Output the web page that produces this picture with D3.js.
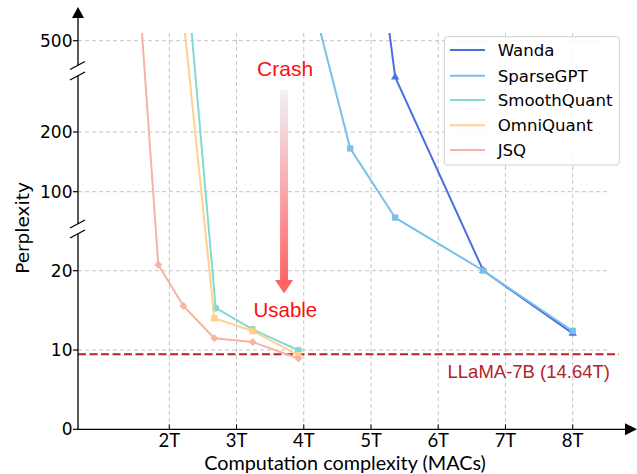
<!DOCTYPE html>
<html><head><meta charset="utf-8">
<script src="https://cdn.jsdelivr.net/npm/d3@7"></script>
<style>html,body{margin:0;padding:0;background:#fff;}svg{display:block;}</style>
</head><body>
<svg id="chart" width="637" height="474"></svg>
<script>
// ---- data ----
const xTickValues = [2, 3, 4, 5, 6, 7, 8];
const xTickLabels = ["2T", "3T", "4T", "5T", "6T", "7T", "8T"];
const yTickValues = [0, 10, 20, 100, 200, 500];
const yTickLabels = ["0", "10", "20", "100", "200", "500"];
const yBreakStops = [0, 20, 100, 200, 500];   // broken-axis segments
const seriesNames = ["Wanda", "SparseGPT", "SmoothQuant", "OmniQuant", "JSQ"];
const wandaX = [4.995, 5.36, 6.67, 8.0];
const wandaY = [1000, 380, 20, 12.1];
const sparseX = [3.704, 4.69, 5.36, 6.67, 8.0];
const sparseY = [1000, 172.7, 73.7, 20, 12.4];
const smoothX = [2.146, 2.69, 3.24, 3.92];
const smoothY = [1000, 15.3, 12.6, 9.97];
const omniX = [2.012, 2.67, 3.24, 3.92];
const omniY = [1000, 14.0, 12.4, 9.35];
const jsqX = [1.442, 1.836, 2.21, 2.67, 3.24, 3.92];
const jsqY = [1000, 26.1, 15.55, 11.48, 11.0, 8.93];
const baselineValue = 9.47;
const baselineLabel = "LLaMA-7B (14.64T)";

(function () {
// ---- styling ----
const colors = ["#4a6fe0", "#79c1ea", "#82dad2", "#ffd08e", "#f5b4a4"];
const symbols = [d3.symbolTriangle, d3.symbolSquare, d3.symbolCircle, d3.symbolSquare, d3.symbolDiamond2];

const svg = d3.select("#chart");
const pLeft = 78, pRight = 610, pTop = 33, pBottom = 429.3;

const x = d3.scaleLinear().domain([2, 8]).range([169.3, 572.7]);
const y = d3.scaleLinear().domain(yBreakStops).range([429.3, 270.7, 191.7, 132, 40.7]);

const series = [
  {name: seriesNames[0], xs: wandaX, ys: wandaY},
  {name: seriesNames[1], xs: sparseX, ys: sparseY},
  {name: seriesNames[2], xs: smoothX, ys: smoothY},
  {name: seriesNames[3], xs: omniX, ys: omniY},
  {name: seriesNames[4], xs: jsqX, ys: jsqY}
].map((s, i) => ({...s, color: colors[i], symbol: symbols[i], pts: s.xs.map((v, j) => [v, s.ys[j]])}));

const defs = svg.append("defs");
defs.append("clipPath").attr("id", "clip")
  .append("rect").attr("x", pLeft).attr("y", pTop).attr("width", pRight - pLeft).attr("height", pBottom - pTop);

const grad = defs.append("linearGradient").attr("id", "arrowGrad")
  .attr("x1", 0).attr("y1", 0).attr("x2", 0).attr("y2", 1);
grad.append("stop").attr("offset", "0%").attr("stop-color", "#f1f1f9");
grad.append("stop").attr("offset", "100%").attr("stop-color", "#ff6464");

// grid
const grid = svg.append("g").attr("stroke", "#c4c4c4").attr("stroke-width", 1).attr("stroke-dasharray", "4,3");
grid.selectAll(".vg").data(xTickValues).join("line").attr("class", "vg")
  .attr("x1", d => x(d)).attr("x2", d => x(d)).attr("y1", pTop).attr("y2", pBottom);
grid.selectAll(".hg").data(yTickValues.filter(d => d > 0)).join("line").attr("class", "hg")
  .attr("x1", pLeft).attr("x2", pRight).attr("y1", d => y(d)).attr("y2", d => y(d));

// baseline
svg.append("line").attr("x1", pLeft).attr("x2", 619).attr("y1", y(baselineValue)).attr("y2", y(baselineValue))
  .attr("stroke", "#b5222a").attr("stroke-width", 2).attr("stroke-dasharray", "8,3.5");
svg.append("text").attr("x", 610).attr("y", y(baselineValue) + 24).attr("text-anchor", "end")
  .attr("font-family", "Liberation Sans, Arial, sans-serif").attr("font-size", 18.5).attr("fill", "#b5222a")
  .text(baselineLabel);

// series
const plot = svg.append("g").attr("clip-path", "url(#clip)");
const line = d3.line().x(d => x(d[0])).y(d => y(d[1]));
series.forEach(s => {
  const g = plot.append("g");
  g.append("path").attr("d", line(s.pts)).attr("fill", "none").attr("stroke", s.color).attr("stroke-width", 2);
  g.selectAll("path.m").data(s.pts).join("path").attr("class", "m")
    .attr("transform", d => `translate(${x(d[0])},${y(d[1])})`)
    .attr("d", d3.symbol().type(s.symbol).size(s.symbol === d3.symbolTriangle ? 30 : 40))
    .attr("fill", s.color);
});

// annotation arrow
const ax = x(3.707);
svg.append("rect").attr("x", ax - 4).attr("y", 90).attr("width", 8).attr("height", 191)
  .attr("fill", "url(#arrowGrad)");
svg.append("path").attr("d", `M${ax - 9},280 L${ax + 9},280 L${ax},293.5 Z`).attr("fill", "#ff6464");
svg.append("text").attr("x", ax + 1).attr("y", 76).attr("text-anchor", "middle")
  .attr("font-family", "Liberation Sans, Arial, sans-serif").attr("font-size", 21).attr("fill", "#ff0d0d").text("Crash");
svg.append("text").attr("x", ax + 1.3).attr("y", 316.5).attr("text-anchor", "middle")
  .attr("font-family", "Liberation Sans, Arial, sans-serif").attr("font-size", 20.5).attr("fill", "#ff0d0d").text("Usable");

// axes
const axisG = svg.append("g").attr("stroke", "#000").attr("stroke-width", 1.3);
axisG.append("line").attr("x1", pLeft).attr("x2", 627).attr("y1", pBottom).attr("y2", pBottom);
svg.append("path").attr("d", `M625,${pBottom - 6} L637,${pBottom} L625,${pBottom + 6} Z`).attr("fill", "#000");
const breaks = [[65.5, 76], [224, 234]];
axisG.append("line").attr("x1", pLeft).attr("x2", pLeft).attr("y1", pBottom).attr("y2", breaks[1][1]);
axisG.append("line").attr("x1", pLeft).attr("x2", pLeft).attr("y1", breaks[1][0]).attr("y2", breaks[0][1]);
axisG.append("line").attr("x1", pLeft).attr("x2", pLeft).attr("y1", breaks[0][0]).attr("y2", 17);
svg.append("path").attr("d", `M${pLeft - 6},18 L${pLeft},7 L${pLeft + 6},18 Z`).attr("fill", "#000");
breaks.forEach(b => b.forEach(yy => {
  axisG.append("line").attr("x1", pLeft - 8).attr("x2", pLeft + 7).attr("y1", yy + 4).attr("y2", yy - 4);
}));

// y ticks
const yt = svg.append("g");
yt.selectAll("line").data(yTickValues).join("line")
  .attr("x1", pLeft - 5).attr("x2", pLeft).attr("y1", d => y(d)).attr("y2", d => y(d))
  .attr("stroke", "#000").attr("stroke-width", 1.2);
yt.selectAll("text").data(yTickValues).join("text")
  .attr("x", pLeft - 5.5).attr("y", d => y(d)).attr("dy", "0.36em").attr("text-anchor", "end")
  .attr("font-family", "DejaVu Sans, sans-serif").attr("font-size", 17).attr("fill", "#000")
  .text((d, i) => yTickLabels[i]);

// x ticks
const xt = svg.append("g");
xt.selectAll("line").data(xTickValues).join("line")
  .attr("x1", d => x(d)).attr("x2", d => x(d)).attr("y1", pBottom - 5).attr("y2", pBottom)
  .attr("stroke", "#000").attr("stroke-width", 1);
xt.selectAll("text").data(xTickValues).join("text")
  .attr("x", d => x(d)).attr("y", 446.7).attr("text-anchor", "middle")
  .attr("font-family", "Lato, sans-serif").attr("font-size", 18.5).attr("fill", "#000")
  .text((d, i) => xTickLabels[i]);

// axis titles
const xl = svg.append("text").attr("x", 345).attr("y", 470.3).attr("text-anchor", "middle")
  .attr("font-family", "Lato, sans-serif").attr("font-size", 18.5).attr("fill", "#000")
  .text("Computation complexity (MACs)");
const len = xl.node().getComputedTextLength();
if (len > 0) xl.attr("font-size", 18.5 * 282 / len);
svg.append("text").attr("transform", "translate(29,228) rotate(-90)").attr("text-anchor", "middle")
  .attr("font-family", "DejaVu Sans, sans-serif").attr("font-size", 18.5).attr("fill", "#000")
  .text("Perplexity");

// legend
const lg = svg.append("g");
lg.append("rect").attr("x", 444.3).attr("y", 36.7).attr("width", 175).attr("height", 128.3)
  .attr("rx", 3).attr("fill", "#fff").attr("fill-opacity", 0.85).attr("stroke", "#d0d0d0").attr("stroke-width", 1);
const rowY = [50, 75.7, 100, 125.3, 150];
series.forEach((s, i) => {
  lg.append("line").attr("x1", 450).attr("x2", 485).attr("y1", rowY[i]).attr("y2", rowY[i])
    .attr("stroke", s.color).attr("stroke-width", 2);
  lg.append("text").attr("x", 497.7).attr("y", rowY[i]).attr("dy", "0.36em")
    .attr("font-family", "DejaVu Sans, sans-serif").attr("font-size", 16.6).attr("fill", "#000")
    .text(s.name);
});
})();
</script>
</body></html>
